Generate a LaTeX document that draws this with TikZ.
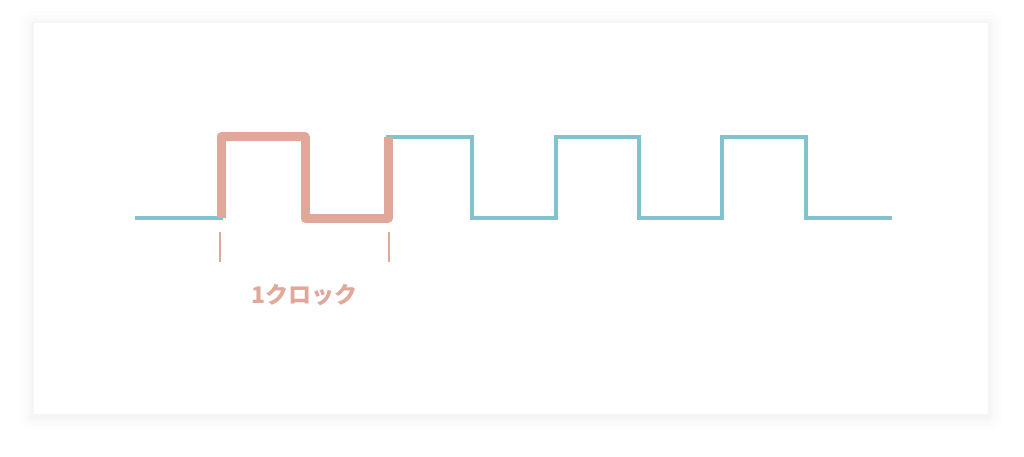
\documentclass[tikz,border=0pt]{standalone}
\usepackage{fontspec}
\newfontfamily\cjk{Noto Sans CJK JP}
\usepackage{xcolor}
\usetikzlibrary{positioning}
\definecolor{wave}{HTML}{80C3CF}
\definecolor{clk}{HTML}{E0A899}
\tikzset{
  wave line/.style={color=wave, line width=4pt},
  clock line/.style={color=clk, line width=9pt, line join=round},
  clock tick/.style={color=clk, line width=1.6pt},
}
\begin{document}
\begin{tikzpicture}[x=1pt,y=-1pt]
\useasboundingbox (0,0) rectangle (1024,457);
% card with soft shadow
\foreach \s/\o in {14/0.006,10/0.008,6/0.01,3/0.012}
  \fill[black, opacity=\o, rounded corners=\s pt] (34-\s,23-\s+2) rectangle (988+\s,414+\s+2);
\fill[white] (34,23) rectangle (988,414);
% clock signal
\coordinate (S) at (135,218);
\coordinate (E) at (892,218);
\draw[wave line] (S) -- (221,218) -- (221,137)
  -- (305,137) -- (305,218) -- (388,218) -- (388,137)
  -- (472,137) -- (472,218) -- (556,218) -- (556,137)
  -- (639,137) -- (639,218) -- (722,218) -- (722,137)
  -- (806,137) -- (806,218) -- (E);
% one period
\draw[clock line] (221,218) -- (221,137) -- (305,137) -- (305,218) -- (388,218) -- (388,137);
\coordinate (T1) at (220,232);
\coordinate (T2) at (389,232);
\draw[clock tick] (T1) -- ++(0,30);
\draw[clock tick] (T2) -- ++(0,30);
\node[color=clk, font=\cjk\bfseries\fontsize{23}{26}\selectfont] (lbl) at (304,295) {1クロック};
\end{tikzpicture}
\end{document}
